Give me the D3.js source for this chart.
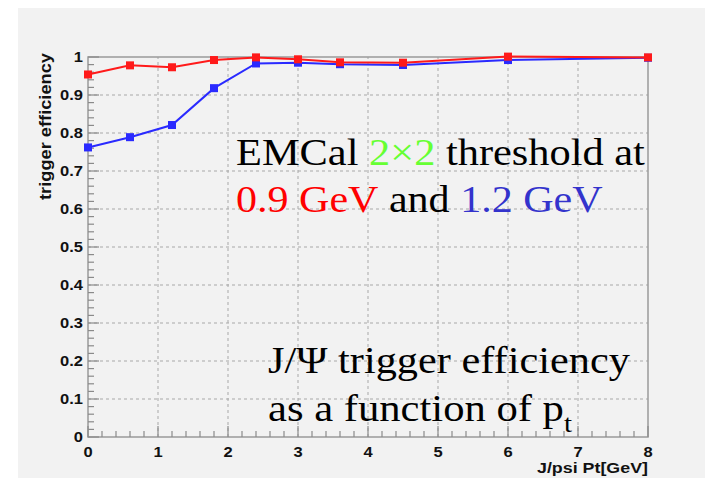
<!DOCTYPE html>
<html><head><meta charset="utf-8">
<script src="https://cdn.jsdelivr.net/npm/d3@7"></script>
<style>
html,body{margin:0;padding:0;background:#fff;}
svg{display:block;}
</style></head>
<body>
<script>
// ---- data ----
const ptValues = [0, 0.6, 1.2, 1.8, 2.4, 3, 3.6, 4.5, 6, 8];
const effThreshold09 = [0.954, 0.978, 0.973, 0.992, 0.999, 0.994, 0.986, 0.985, 1.001, 0.999];
const effThreshold12 = [0.762, 0.789, 0.821, 0.918, 0.983, 0.985, 0.981, 0.979, 0.992, 0.998];
const xTickValues = [0, 1, 2, 3, 4, 5, 6, 7, 8];
const yTickValues = [0, 0.1, 0.2, 0.3, 0.4, 0.5, 0.6, 0.7, 0.8, 0.9, 1];
const yTickLabels = ["0", "0.1", "0.2", "0.3", "0.4", "0.5", "0.6", "0.7", "0.8", "0.9", "1"];
const xTitle = "J/psi Pt[GeV]";
const yTitle = "trigger efficiency";

const W = 705, H = 480;
const svg = d3.select("body").append("svg").attr("width", W).attr("height", H);

svg.append("rect").attr("x", 18).attr("y", 8).attr("width", W - 18).attr("height", 470).attr("fill", "#f2f2f2");

const x = d3.scaleLinear().domain([0, 8]).range([88, 648]);
const y = d3.scaleLinear().domain([0, 1]).range([437, 57]);

// grid
const grid = svg.append("g").attr("stroke", "#a8a8a8").attr("stroke-width", 1).attr("stroke-dasharray", "3,3");
xTickValues.filter(v => v > 0 && v < 8).forEach(v => {
  grid.append("line").attr("x1", x(v)).attr("x2", x(v)).attr("y1", y(0)).attr("y2", y(1));
});
yTickValues.filter(v => v > 0 && v < 1).forEach(v => {
  grid.append("line").attr("x1", x(0)).attr("x2", x(8)).attr("y1", y(v)).attr("y2", y(v));
});

// frame
svg.append("rect").attr("x", x(0)).attr("y", y(1)).attr("width", x(8) - x(0)).attr("height", y(0) - y(1))
  .attr("fill", "none").attr("stroke", "#9a9a9a").attr("stroke-width", 1.5);

// ticks (inside, ROOT style)
const tk = svg.append("g").attr("stroke", "#8a8a8a").attr("stroke-width", 1.2);
d3.range(0, 1.0001, 0.02).forEach(v => {
  const major = Math.abs(v * 10 - Math.round(v * 10)) < 1e-6;
  tk.append("line").attr("x1", x(0)).attr("x2", x(0) + (major ? 11 : 6)).attr("y1", y(v)).attr("y2", y(v));
});
d3.range(0, 8.0001, 0.2).forEach(v => {
  const major = Math.abs(v - Math.round(v)) < 1e-6;
  tk.append("line").attr("y1", y(0)).attr("y2", y(0) - (major ? 11 : 6)).attr("x1", x(v)).attr("x2", x(v));
});

// tick labels
const lab = svg.append("g").attr("font-family", "Liberation Sans, Arial, sans-serif").attr("font-weight", "bold")
  .attr("font-size", 15).attr("fill", "#111");
yTickValues.forEach((v, i) => {
  lab.append("text").attr("x", 83).attr("y", y(v)).attr("dy", "0.36em").attr("text-anchor", "end")
    .attr("transform", `translate(83,0) scale(1.1,1) translate(-83,0)`)
    .text(yTickLabels[i]);
});
xTickValues.forEach(v => {
  lab.append("text").attr("x", x(v)).attr("y", 452).attr("dy", "0.36em").attr("text-anchor", "middle")
    .attr("transform", `translate(${x(v)},0) scale(1.1,1) translate(${-x(v)},0)`)
    .text(d3.format("d")(v));
});

// axis titles
svg.append("text").attr("x", 648).attr("y", 473).attr("text-anchor", "end")
  .attr("font-family", "Liberation Sans, Arial, sans-serif").attr("font-weight", "bold").attr("font-size", 14)
  .attr("fill", "#111").attr("textLength", 111).attr("lengthAdjust", "spacingAndGlyphs").text(xTitle);
svg.append("text").attr("transform", "translate(51,53) rotate(-90)").attr("text-anchor", "end")
  .attr("font-family", "Liberation Sans, Arial, sans-serif").attr("font-weight", "bold").attr("font-size", 16)
  .attr("fill", "#111").attr("textLength", 147).attr("lengthAdjust", "spacingAndGlyphs").text(yTitle);

// series
const line = d3.line().x(d => x(d[0])).y(d => y(d[1]));
function drawSeries(vals, color) {
  const pts = ptValues.map((p, i) => [p, vals[i]]);
  svg.append("path").datum(pts).attr("d", line).attr("fill", "none").attr("stroke", color).attr("stroke-width", 2);
  svg.append("g").selectAll("rect").data(pts).join("rect")
    .attr("x", d => x(d[0]) - 4).attr("y", d => y(d[1]) - 4).attr("width", 8).attr("height", 8).attr("fill", color);
}
drawSeries(effThreshold12, "#2a2aff");
drawSeries(effThreshold09, "#ff1a1a");

// annotation text
const serif = "Liberation Serif, Times New Roman, serif";
function textLine(xp, yp, size, parts, targetW) {
  const t = svg.append("text").attr("x", xp).attr("y", yp).attr("font-family", serif).attr("font-size", size);
  parts.forEach(p => {
    const ts = t.append("tspan").attr("fill", p.c).text(p.t);
    if (p.sub) ts.attr("font-size", size * 0.68).attr("dy", size * 0.3);
  });
  const w = t.node().getComputedTextLength();
  const s = targetW / w;
  t.attr("transform", `translate(${xp},0) scale(${s},1) translate(${-xp},0)`);
}
textLine(236, 165, 37, [{t: "EMCal ", c: "#000"}, {t: "2\u00d72", c: "#66ff33"}, {t: " threshold at", c: "#000"}], 409);
textLine(236, 212, 37, [{t: "0.9 GeV", c: "#ff0000"}, {t: " and ", c: "#000"}, {t: "1.2 GeV", c: "#3333cc"}], 366);
textLine(268, 373, 37, [{t: "J/\u03a8 trigger efficiency", c: "#000"}], 362);
textLine(268, 421, 37, [{t: "as a function of p", c: "#000"}, {t: "t", c: "#000", sub: true}], 304);
</script>
</body></html>
